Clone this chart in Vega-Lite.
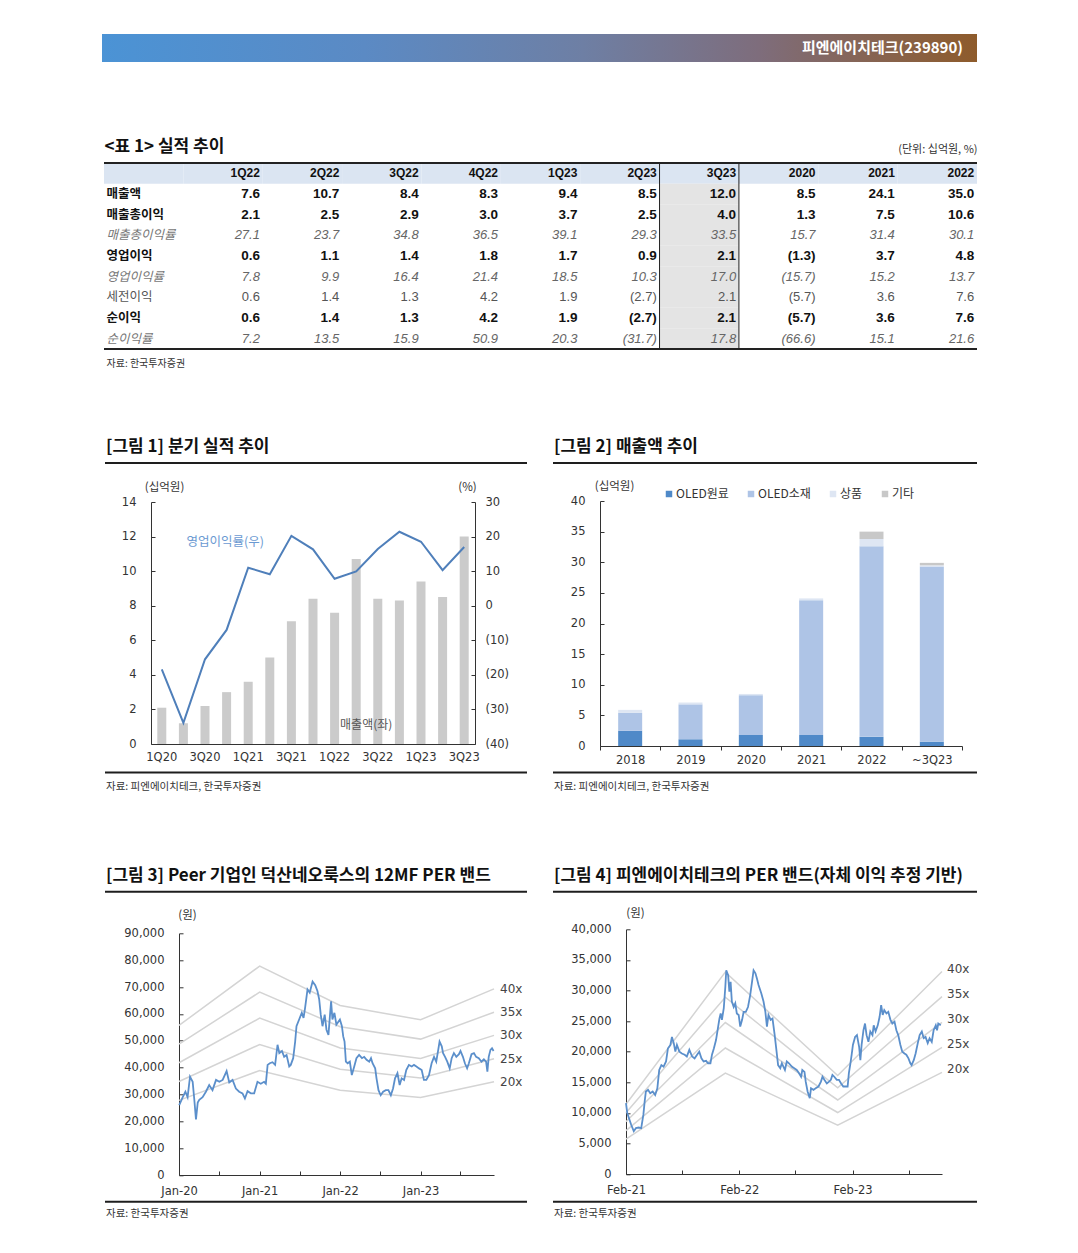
{
"$schema":"https://vega.github.io/schema/vega-lite/v6.json",
"background":"white",
"padding":{"left":102,"top":34,"right":10,"bottom":10},
"data":{"values":[{}]},
"config":{"view":{"stroke":null},"font":"DejaVu Sans",
"axis":{"grid":false,"labelFont":"DejaVu Sans","labelFontSize":11.5,"labelColor":"#333","domainColor":"#333","tickColor":"#333","titleFont":"Noto Sans CJK KR","titleFontWeight":"normal","titleFontSize":11.5,"titleColor":"#333"},
"title":{"font":"Noto Sans CJK KR"},"legend":{"labelFont":"Noto Sans CJK KR"}},
"datasets":{
"tbl":[
{"row":"head","label":"","1Q22":"1Q22","2Q22":"2Q22","3Q22":"3Q22","4Q22":"4Q22","1Q23":"1Q23","2Q23":"2Q23","3Q23":"3Q23","2020":"2020","2021":"2021","2022":"2022"},
{"row":"매출액","label":"매출액","1Q22":"7.6","2Q22":"10.7","3Q22":"8.4","4Q22":"8.3","1Q23":"9.4","2Q23":"8.5","3Q23":"12.0","2020":"8.5","2021":"24.1","2022":"35.0"},
{"row":"매출총이익","label":"매출총이익","1Q22":"2.1","2Q22":"2.5","3Q22":"2.9","4Q22":"3.0","1Q23":"3.7","2Q23":"2.5","3Q23":"4.0","2020":"1.3","2021":"7.5","2022":"10.6"},
{"row":"매출총이익률","label":"매출총이익률","1Q22":"27.1","2Q22":"23.7","3Q22":"34.8","4Q22":"36.5","1Q23":"39.1","2Q23":"29.3","3Q23":"33.5","2020":"15.7","2021":"31.4","2022":"30.1"},
{"row":"영업이익","label":"영업이익","1Q22":"0.6","2Q22":"1.1","3Q22":"1.4","4Q22":"1.8","1Q23":"1.7","2Q23":"0.9","3Q23":"2.1","2020":"(1.3)","2021":"3.7","2022":"4.8"},
{"row":"영업이익률","label":"영업이익률","1Q22":"7.8","2Q22":"9.9","3Q22":"16.4","4Q22":"21.4","1Q23":"18.5","2Q23":"10.3","3Q23":"17.0","2020":"(15.7)","2021":"15.2","2022":"13.7"},
{"row":"세전이익","label":"세전이익","1Q22":"0.6","2Q22":"1.4","3Q22":"1.3","4Q22":"4.2","1Q23":"1.9","2Q23":"(2.7)","3Q23":"2.1","2020":"(5.7)","2021":"3.6","2022":"7.6"},
{"row":"순이익","label":"순이익","1Q22":"0.6","2Q22":"1.4","3Q22":"1.3","4Q22":"4.2","1Q23":"1.9","2Q23":"(2.7)","3Q23":"2.1","2020":"(5.7)","2021":"3.6","2022":"7.6"},
{"row":"순이익률","label":"순이익률","1Q22":"7.2","2Q22":"13.5","3Q22":"15.9","4Q22":"50.9","1Q23":"20.3","2Q23":"(31.7)","3Q23":"17.8","2020":"(66.6)","2021":"15.1","2022":"21.6"}],
"c1":[{"q":"1Q20","rev":2.1,"opm":-18.4},{"q":"2Q20","rev":1.2,"opm":-33.9},{"q":"3Q20","rev":2.2,"opm":-15.5},{"q":"4Q20","rev":3.0,"opm":-7.0},{"q":"1Q21","rev":3.6,"opm":11.0},{"q":"2Q21","rev":5.0,"opm":9.1},{"q":"3Q21","rev":7.1,"opm":20.2},{"q":"4Q21","rev":8.4,"opm":16.3},{"q":"1Q22","rev":7.6,"opm":7.8},{"q":"2Q22","rev":10.7,"opm":9.9},{"q":"3Q22","rev":8.4,"opm":16.4},{"q":"4Q22","rev":8.3,"opm":21.4},{"q":"1Q23","rev":9.4,"opm":18.5},{"q":"2Q23","rev":8.5,"opm":10.3},{"q":"3Q23","rev":12.0,"opm":17.0}],
"c2":[{"yr":"2018","seg":"OLED원료","v":2.5},{"yr":"2018","seg":"OLED소재","v":2.9},{"yr":"2018","seg":"상품","v":0.5},
{"yr":"2019","seg":"OLED원료","v":1.1},{"yr":"2019","seg":"OLED소재","v":5.7},{"yr":"2019","seg":"상품","v":0.3},
{"yr":"2020","seg":"OLED원료","v":1.8},{"yr":"2020","seg":"OLED소재","v":6.5},{"yr":"2020","seg":"상품","v":0.2},
{"yr":"2021","seg":"OLED원료","v":1.8},{"yr":"2021","seg":"OLED소재","v":22.0},{"yr":"2021","seg":"상품","v":0.3},
{"yr":"2022","seg":"OLED원료","v":1.5},{"yr":"2022","seg":"OLED소재","v":31.1},{"yr":"2022","seg":"상품","v":1.2},{"yr":"2022","seg":"기타","v":1.2},
{"yr":"~3Q23","seg":"OLED원료","v":0.7},{"yr":"~3Q23","seg":"OLED소재","v":28.6},{"yr":"~3Q23","seg":"상품","v":0.2},{"yr":"~3Q23","seg":"기타","v":0.4}],
"b3":[
{"d":"2020-01-01","per":"40x","v":55700},{"d":"2021-01-01","per":"40x","v":77800},{"d":"2022-01-01","per":"40x","v":63100},{"d":"2023-01-01","per":"40x","v":57800},{"d":"2023-11-30","per":"40x","v":69300},
{"d":"2020-01-01","per":"35x","v":48700},{"d":"2021-01-01","per":"35x","v":68100},{"d":"2022-01-01","per":"35x","v":55200},{"d":"2023-01-01","per":"35x","v":50600},{"d":"2023-11-30","per":"35x","v":60600},
{"d":"2020-01-01","per":"30x","v":41800},{"d":"2021-01-01","per":"30x","v":58400},{"d":"2022-01-01","per":"30x","v":47300},{"d":"2023-01-01","per":"30x","v":43400},{"d":"2023-11-30","per":"30x","v":52000},
{"d":"2020-01-01","per":"25x","v":34800},{"d":"2021-01-01","per":"25x","v":48600},{"d":"2022-01-01","per":"25x","v":39400},{"d":"2023-01-01","per":"25x","v":36100},{"d":"2023-11-30","per":"25x","v":43300},
{"d":"2020-01-01","per":"20x","v":27800},{"d":"2021-01-01","per":"20x","v":38900},{"d":"2022-01-01","per":"20x","v":31600},{"d":"2023-01-01","per":"20x","v":28900},{"d":"2023-11-30","per":"20x","v":34700}],
"b4":[
{"d":"2021-02-01","per":"40x","v":11400},{"d":"2021-12-18","per":"40x","v":33000},{"d":"2022-12-15","per":"40x","v":16100},{"d":"2023-11-16","per":"40x","v":33100},
{"d":"2021-02-01","per":"35x","v":10000},{"d":"2021-12-18","per":"35x","v":28900},{"d":"2022-12-15","per":"35x","v":14100},{"d":"2023-11-16","per":"35x","v":29000},
{"d":"2021-02-01","per":"30x","v":8550},{"d":"2021-12-18","per":"30x","v":24750},{"d":"2022-12-15","per":"30x","v":12100},{"d":"2023-11-16","per":"30x","v":24800},
{"d":"2021-02-01","per":"25x","v":7100},{"d":"2021-12-18","per":"25x","v":20600},{"d":"2022-12-15","per":"25x","v":10050},{"d":"2023-11-16","per":"25x","v":20700},
{"d":"2021-02-01","per":"20x","v":5700},{"d":"2021-12-18","per":"20x","v":16500},{"d":"2022-12-15","per":"20x","v":8000},{"d":"2023-11-16","per":"20x","v":16600}],
"p3":[
{"d":"2020-01-02","v":26000},{"d":"2020-01-18","v":29000},{"d":"2020-01-30","v":31000},{"d":"2020-02-09","v":29000},{"d":"2020-02-20","v":36600},{"d":"2020-03-03","v":34700},{"d":"2020-03-10","v":28500},{"d":"2020-03-18","v":20700},{"d":"2020-03-26","v":27000},{"d":"2020-04-02","v":28000},{"d":"2020-04-17","v":29000},{"d":"2020-05-02","v":31000},{"d":"2020-05-17","v":33500},{"d":"2020-06-01","v":31600},{"d":"2020-06-17","v":35400},{"d":"2020-07-02","v":34700},{"d":"2020-07-17","v":35400},{"d":"2020-08-04","v":38700},{"d":"2020-08-16","v":34500},{"d":"2020-08-31","v":35400},{"d":"2020-09-15","v":32200},{"d":"2020-09-30","v":31000},{"d":"2020-10-15","v":30400},{"d":"2020-10-26","v":28500},{"d":"2020-11-07","v":31200},{"d":"2020-11-22","v":30400},{"d":"2020-12-07","v":30400},{"d":"2020-12-22","v":34700},{"d":"2021-01-06","v":34000},{"d":"2021-01-21","v":34700},{"d":"2021-01-29","v":34000},{"d":"2021-02-06","v":41000},{"d":"2021-02-16","v":41600},{"d":"2021-02-28","v":42000},{"d":"2021-03-12","v":41000},{"d":"2021-03-23","v":48500},{"d":"2021-03-31","v":45400},{"d":"2021-04-12","v":46200},{"d":"2021-04-22","v":44000},{"d":"2021-05-03","v":44700},{"d":"2021-05-15","v":40400},{"d":"2021-05-22","v":41000},{"d":"2021-06-02","v":43500},{"d":"2021-06-11","v":49700},{"d":"2021-06-17","v":55400},{"d":"2021-06-29","v":57900},{"d":"2021-07-11","v":60400},{"d":"2021-07-19","v":58500},{"d":"2021-07-26","v":62200},{"d":"2021-08-06","v":69100},{"d":"2021-08-16","v":67900},{"d":"2021-08-29","v":72000},{"d":"2021-09-10","v":70700},{"d":"2021-09-20","v":68500},{"d":"2021-09-28","v":65400},{"d":"2021-10-05","v":59700},{"d":"2021-10-13","v":55400},{"d":"2021-10-23","v":59700},{"d":"2021-10-31","v":54100},{"d":"2021-11-09","v":52200},{"d":"2021-11-15","v":58500},{"d":"2021-11-21","v":64700},{"d":"2021-11-27","v":57900},{"d":"2021-12-06","v":60400},{"d":"2021-12-15","v":56000},{"d":"2021-12-20","v":56600},{"d":"2021-12-31","v":57900},{"d":"2022-01-09","v":55400},{"d":"2022-01-15","v":51600},{"d":"2022-01-21","v":49700},{"d":"2022-01-27","v":42200},{"d":"2022-02-04","v":41600},{"d":"2022-02-14","v":42200},{"d":"2022-02-23","v":37200},{"d":"2022-03-06","v":40400},{"d":"2022-03-16","v":43500},{"d":"2022-03-28","v":44700},{"d":"2022-04-10","v":43500},{"d":"2022-04-20","v":44000},{"d":"2022-05-01","v":42900},{"d":"2022-05-13","v":42200},{"d":"2022-05-21","v":43500},{"d":"2022-05-28","v":41600},{"d":"2022-06-09","v":39700},{"d":"2022-06-15","v":36000},{"d":"2022-06-24","v":31600},{"d":"2022-07-04","v":29700},{"d":"2022-07-15","v":31000},{"d":"2022-07-27","v":31600},{"d":"2022-08-08","v":31600},{"d":"2022-08-19","v":29700},{"d":"2022-08-29","v":32200},{"d":"2022-09-07","v":36000},{"d":"2022-09-18","v":37900},{"d":"2022-09-28","v":33500},{"d":"2022-10-07","v":36000},{"d":"2022-10-18","v":35400},{"d":"2022-10-28","v":39100},{"d":"2022-11-09","v":41000},{"d":"2022-11-22","v":40400},{"d":"2022-12-02","v":41000},{"d":"2022-12-13","v":40400},{"d":"2022-12-25","v":39700},{"d":"2023-01-06","v":39100},{"d":"2023-01-16","v":35400},{"d":"2023-01-27","v":35400},{"d":"2023-02-08","v":37200},{"d":"2023-02-20","v":41600},{"d":"2023-03-03","v":44000},{"d":"2023-03-13","v":42200},{"d":"2023-03-22","v":46600},{"d":"2023-03-28","v":49700},{"d":"2023-04-07","v":47900},{"d":"2023-04-13","v":45400},{"d":"2023-04-22","v":44000},{"d":"2023-05-02","v":42200},{"d":"2023-05-13","v":39700},{"d":"2023-05-22","v":43500},{"d":"2023-06-01","v":45400},{"d":"2023-06-12","v":44000},{"d":"2023-06-24","v":45000},{"d":"2023-07-01","v":46200},{"d":"2023-07-12","v":44000},{"d":"2023-07-21","v":41600},{"d":"2023-07-31","v":39700},{"d":"2023-08-08","v":41600},{"d":"2023-08-20","v":45000},{"d":"2023-08-31","v":45400},{"d":"2023-09-10","v":44000},{"d":"2023-09-22","v":43500},{"d":"2023-10-04","v":42200},{"d":"2023-10-15","v":43100},{"d":"2023-10-25","v":42200},{"d":"2023-10-31","v":38500},{"d":"2023-11-06","v":44000},{"d":"2023-11-14","v":46600},{"d":"2023-11-21","v":47200},{"d":"2023-11-28","v":46200}],
"p4":[
{"d":"2021-02-01","v":11600},{"d":"2021-02-05","v":9950},{"d":"2021-02-12","v":8900},{"d":"2021-02-18","v":8000},{"d":"2021-02-26","v":7000},{"d":"2021-03-05","v":7500},{"d":"2021-03-14","v":7600},{"d":"2021-03-22","v":7500},{"d":"2021-03-29","v":9700},{"d":"2021-04-02","v":11800},{"d":"2021-04-06","v":13500},{"d":"2021-04-13","v":13750},{"d":"2021-04-20","v":13200},{"d":"2021-04-28","v":13500},{"d":"2021-05-06","v":12900},{"d":"2021-05-13","v":14000},{"d":"2021-05-19","v":17000},{"d":"2021-05-26","v":17800},{"d":"2021-06-02","v":17550},{"d":"2021-06-10","v":18400},{"d":"2021-06-16","v":20500},{"d":"2021-06-24","v":21100},{"d":"2021-06-29","v":22400},{"d":"2021-07-05","v":21350},{"d":"2021-07-10","v":20000},{"d":"2021-07-15","v":21100},{"d":"2021-07-23","v":20000},{"d":"2021-07-31","v":19700},{"d":"2021-08-09","v":19500},{"d":"2021-08-16","v":19200},{"d":"2021-08-24","v":20300},{"d":"2021-09-02","v":19200},{"d":"2021-09-10","v":18900},{"d":"2021-09-18","v":19500},{"d":"2021-09-25","v":20000},{"d":"2021-10-02","v":18900},{"d":"2021-10-09","v":18400},{"d":"2021-10-17","v":18500},{"d":"2021-10-23","v":18100},{"d":"2021-10-31","v":18100},{"d":"2021-11-05","v":19500},{"d":"2021-11-11","v":20500},{"d":"2021-11-18","v":21900},{"d":"2021-11-24","v":23800},{"d":"2021-11-29","v":25400},{"d":"2021-12-03","v":26250},{"d":"2021-12-07","v":25200},{"d":"2021-12-13","v":27100},{"d":"2021-12-18","v":30600},{"d":"2021-12-21","v":33300},{"d":"2021-12-27","v":32500},{"d":"2021-12-31","v":29800},{"d":"2022-01-04","v":31400},{"d":"2022-01-08","v":28200},{"d":"2022-01-14","v":27300},{"d":"2022-01-19","v":27900},{"d":"2022-01-24","v":26250},{"d":"2022-01-30","v":26000},{"d":"2022-02-04","v":24100},{"d":"2022-02-10","v":25200},{"d":"2022-02-15","v":26500},{"d":"2022-02-22","v":26500},{"d":"2022-03-01","v":27300},{"d":"2022-03-08","v":29200},{"d":"2022-03-14","v":31400},{"d":"2022-03-19","v":33300},{"d":"2022-03-25","v":32800},{"d":"2022-03-30","v":31900},{"d":"2022-04-04","v":30900},{"d":"2022-04-13","v":29500},{"d":"2022-04-20","v":28200},{"d":"2022-04-26","v":26500},{"d":"2022-05-01","v":24100},{"d":"2022-05-06","v":26000},{"d":"2022-05-13","v":25200},{"d":"2022-05-19","v":25400},{"d":"2022-05-26","v":22700},{"d":"2022-05-31","v":20500},{"d":"2022-06-06","v":17800},{"d":"2022-06-13","v":17300},{"d":"2022-06-18","v":18100},{"d":"2022-06-23","v":17550},{"d":"2022-06-28","v":17000},{"d":"2022-07-04","v":18400},{"d":"2022-07-11","v":18100},{"d":"2022-07-20","v":17550},{"d":"2022-07-28","v":17300},{"d":"2022-08-05","v":17000},{"d":"2022-08-12","v":16500},{"d":"2022-08-19","v":15900},{"d":"2022-08-23","v":17000},{"d":"2022-08-30","v":16700},{"d":"2022-09-03","v":15100},{"d":"2022-09-09","v":13500},{"d":"2022-09-16","v":12400},{"d":"2022-09-20","v":14000},{"d":"2022-09-28","v":13750},{"d":"2022-10-05","v":14000},{"d":"2022-10-14","v":14300},{"d":"2022-10-22","v":15100},{"d":"2022-10-27","v":15900},{"d":"2022-11-02","v":15400},{"d":"2022-11-10","v":14800},{"d":"2022-11-17","v":15100},{"d":"2022-11-23","v":15400},{"d":"2022-11-28","v":16200},{"d":"2022-12-04","v":15900},{"d":"2022-12-12","v":15400},{"d":"2022-12-19","v":15400},{"d":"2022-12-26","v":14800},{"d":"2023-01-02","v":14300},{"d":"2023-01-10","v":14300},{"d":"2023-01-16","v":14300},{"d":"2023-01-20","v":16500},{"d":"2023-01-25","v":18100},{"d":"2023-01-29","v":19500},{"d":"2023-02-02","v":21100},{"d":"2023-02-09","v":22400},{"d":"2023-02-15","v":22700},{"d":"2023-02-22","v":20800},{"d":"2023-02-26","v":18600},{"d":"2023-03-02","v":21100},{"d":"2023-03-08","v":23500},{"d":"2023-03-13","v":24600},{"d":"2023-03-18","v":22700},{"d":"2023-03-24","v":21600},{"d":"2023-03-30","v":23300},{"d":"2023-04-06","v":22700},{"d":"2023-04-10","v":24300},{"d":"2023-04-16","v":23300},{"d":"2023-04-23","v":24300},{"d":"2023-04-29","v":25700},{"d":"2023-05-04","v":27600},{"d":"2023-05-09","v":26000},{"d":"2023-05-14","v":26800},{"d":"2023-05-21","v":26250},{"d":"2023-05-27","v":26500},{"d":"2023-06-03","v":25200},{"d":"2023-06-09","v":24600},{"d":"2023-06-16","v":24900},{"d":"2023-06-22","v":23500},{"d":"2023-06-28","v":22700},{"d":"2023-07-05","v":21100},{"d":"2023-07-11","v":20000},{"d":"2023-07-18","v":19700},{"d":"2023-07-24","v":19500},{"d":"2023-07-31","v":18900},{"d":"2023-08-06","v":18100},{"d":"2023-08-10","v":17800},{"d":"2023-08-17","v":18600},{"d":"2023-08-23","v":19700},{"d":"2023-08-30","v":21400},{"d":"2023-09-05","v":22700},{"d":"2023-09-12","v":23300},{"d":"2023-09-18","v":22200},{"d":"2023-09-24","v":22400},{"d":"2023-10-01","v":21400},{"d":"2023-10-07","v":22200},{"d":"2023-10-14","v":21600},{"d":"2023-10-20","v":23500},{"d":"2023-10-27","v":24300},{"d":"2023-10-31","v":23500},{"d":"2023-11-04","v":24600},{"d":"2023-11-12","v":24300}]
},
"bounds":"flush",
"spacing":0,
"vconcat":[
{"hconcat":[{"vconcat":[{"width":1,"height":1,"mark":{"type":"rect","opacity":0}}]},{"vconcat":[{"vconcat":[{"width":1,"height":1,"mark":{"type":"rect","opacity":0}}]},
 {"width":875,"height":28,"data":{"values":[{"t":"피엔에이치테크(239890)"}]},
  "layer":[
   {"mark":{"type":"rect","color":{"gradient":"linear","x1":0,"y1":0,"x2":1,"y2":0,"stops":[{"offset":0,"color":"#4b93d5"},{"offset":0.3,"color":"#5b8ac4"},{"offset":0.55,"color":"#6e7fa4"},{"offset":0.75,"color":"#7e6d7c"},{"offset":1,"color":"#8e5b2b"}]}},
    "encoding":{"x":{"field":"t","type":"nominal","scale":{"paddingInner":0,"paddingOuter":0},"axis":null}}},
   {"mark":{"type":"text","align":"right","baseline":"middle","dx":-14,"color":"#ffffff","font":"Noto Sans CJK KR","fontSize":15,"fontWeight":"bold"},
    "encoding":{"x":{"field":"t","type":"nominal","bandPosition":1,"scale":{"paddingInner":0,"paddingOuter":0},"axis":null},"text":{"field":"t"}}}
  ]}
 ],"spacing":0,"bounds":"flush"}],"spacing":0,"bounds":"flush"},

{"hconcat":[{"vconcat":[{"width":1,"height":1,"mark":{"type":"rect","opacity":0}}]},{"vconcat":[{"vconcat":[{"width":1,"height":1,"mark":{"type":"rect","opacity":0}}]},
 {"width":873,"height":186,
 "data":{"name":"tbl"},
 "transform":[{"fold":["label","1Q22","2Q22","3Q22","4Q22","1Q23","2Q23","3Q23","2020","2021","2022"],"as":["col","v"]}],
 "resolve":{"axis":{"x":"independent"}},
 "layer":[
  {"transform":[{"filter":"datum.row === 'head'"}],"mark":{"type":"rect","color":"#dbe5f2"},
   "encoding":{"x":{"field":"col","type":"nominal","scale":{"domain":["label","1Q22","2Q22","3Q22","4Q22","1Q23","2Q23","3Q23","2020","2021","2022"],"paddingInner":0,"paddingOuter":0},"axis":null},
    "y":{"field":"row","type":"nominal","scale":{"domain":["head","매출액","매출총이익","매출총이익률","영업이익","영업이익률","세전이익","순이익","순이익률"],"paddingInner":0,"paddingOuter":0},"axis":null}}},
  {"transform":[{"filter":"datum.col === '3Q23' && datum.row !== 'head'"}],"mark":{"type":"rect","color":"#e4e4e4"},
   "encoding":{"x":{"field":"col","type":"nominal","scale":{"domain":["label","1Q22","2Q22","3Q22","4Q22","1Q23","2Q23","3Q23","2020","2021","2022"],"paddingInner":0,"paddingOuter":0},"axis":null},
    "y":{"field":"row","type":"nominal","scale":{"domain":["head","매출액","매출총이익","매출총이익률","영업이익","영업이익률","세전이익","순이익","순이익률"],"paddingInner":0,"paddingOuter":0},"axis":null}}},
  {"transform":[{"filter":"datum.row === 'head' && datum.col === 'label'"}],"mark":{"type":"rule","strokeWidth":2,"color":"#222"},
   "encoding":{"y":{"field":"row","type":"nominal","bandPosition":0,"scale":{"domain":["head","매출액","매출총이익","매출총이익률","영업이익","영업이익률","세전이익","순이익","순이익률"],"paddingInner":0,"paddingOuter":0},"axis":null}}},
  {"transform":[{"filter":"datum.row === '순이익률' && datum.col === 'label'"}],"mark":{"type":"rule","strokeWidth":2,"color":"#222"},
   "encoding":{"y":{"field":"row","type":"nominal","bandPosition":1,"scale":{"domain":["head","매출액","매출총이익","매출총이익률","영업이익","영업이익률","세전이익","순이익","순이익률"],"paddingInner":0,"paddingOuter":0},"axis":null}}},
  {"transform":[{"filter":"datum.row === 'head' && datum.col === '3Q23'"}],"mark":{"type":"rule","strokeWidth":1,"color":"#222"},
   "encoding":{"x":{"field":"col","type":"nominal","bandPosition":0,"scale":{"domain":["label","1Q22","2Q22","3Q22","4Q22","1Q23","2Q23","3Q23","2020","2021","2022"],"paddingInner":0,"paddingOuter":0},"axis":null}}},
  {"transform":[{"filter":"datum.row === 'head' && datum.col === '3Q23'"}],"mark":{"type":"rule","strokeWidth":1,"color":"#222"},
   "encoding":{"x":{"field":"col","type":"nominal","bandPosition":1,"scale":{"domain":["label","1Q22","2Q22","3Q22","4Q22","1Q23","2Q23","3Q23","2020","2021","2022"],"paddingInner":0,"paddingOuter":0},"axis":null}}},
  {"transform":[{"filter":"datum.row === 'head' && datum.col !== 'label'"}],
   "mark":{"type":"text","align":"right","baseline":"middle","font":"Liberation Sans","fontSize":12,"fontWeight":"bold","color":"#111"},
   "encoding":{"x":{"field":"col","type":"nominal","bandPosition":0.965,"scale":{"domain":["label","1Q22","2Q22","3Q22","4Q22","1Q23","2Q23","3Q23","2020","2021","2022"],"paddingInner":0,"paddingOuter":0},
     "axis":{"orient":"top","title":"(단위: 십억원, %)","labels":false,"ticks":false,"domain":false,"titleX":873,"titleY":-11,"titleAlign":"right","titleBaseline":"alphabetic","titleFontSize":11,"titleColor":"#333"}},
    "y":{"field":"row","type":"nominal","scale":{"domain":["head","매출액","매출총이익","매출총이익률","영업이익","영업이익률","세전이익","순이익","순이익률"],"paddingInner":0,"paddingOuter":0},"axis":null},
    "text":{"field":"v"}}},
  {"transform":[{"filter":"datum.col === 'label' && indexof(['매출액','매출총이익','영업이익','순이익'], datum.row) >= 0"}],
   "mark":{"type":"text","align":"left","baseline":"middle","font":"Noto Sans CJK KR","fontSize":12.5,"fontWeight":"bold","color":"#111"},
   "encoding":{"x":{"field":"col","type":"nominal","bandPosition":0.03,"scale":{"domain":["label","1Q22","2Q22","3Q22","4Q22","1Q23","2Q23","3Q23","2020","2021","2022"],"paddingInner":0,"paddingOuter":0},
     "axis":{"orient":"bottom","title":"자료: 한국투자증권","labels":false,"ticks":false,"domain":false,"titleX":2,"titleY":14,"titleAlign":"left","titleBaseline":"middle","titleFontSize":10,"titleColor":"#333"}},
    "y":{"field":"row","type":"nominal","scale":{"domain":["head","매출액","매출총이익","매출총이익률","영업이익","영업이익률","세전이익","순이익","순이익률"],"paddingInner":0,"paddingOuter":0},"axis":null},
    "text":{"field":"v"}}},
  {"transform":[{"filter":"datum.col === 'label' && indexof(['매출총이익률','영업이익률','순이익률'], datum.row) >= 0"}],
   "mark":{"type":"text","align":"left","baseline":"middle","font":"Noto Sans CJK KR","fontSize":12.5,"fontStyle":"italic","color":"#777"},
   "encoding":{"x":{"field":"col","type":"nominal","bandPosition":0.03,"scale":{"domain":["label","1Q22","2Q22","3Q22","4Q22","1Q23","2Q23","3Q23","2020","2021","2022"],"paddingInner":0,"paddingOuter":0},"axis":null},
    "y":{"field":"row","type":"nominal","scale":{"domain":["head","매출액","매출총이익","매출총이익률","영업이익","영업이익률","세전이익","순이익","순이익률"],"paddingInner":0,"paddingOuter":0},"axis":null},
    "text":{"field":"v"}}},
  {"transform":[{"filter":"datum.col === 'label' && datum.row === '세전이익'"}],
   "mark":{"type":"text","align":"left","baseline":"middle","font":"Noto Sans CJK KR","fontSize":12.5,"color":"#555"},
   "encoding":{"x":{"field":"col","type":"nominal","bandPosition":0.03,"scale":{"domain":["label","1Q22","2Q22","3Q22","4Q22","1Q23","2Q23","3Q23","2020","2021","2022"],"paddingInner":0,"paddingOuter":0},"axis":null},
    "y":{"field":"row","type":"nominal","scale":{"domain":["head","매출액","매출총이익","매출총이익률","영업이익","영업이익률","세전이익","순이익","순이익률"],"paddingInner":0,"paddingOuter":0},"axis":null},
    "text":{"field":"v"}}},
  {"transform":[{"filter":"datum.col !== 'label' && indexof(['매출액','매출총이익','영업이익','순이익'], datum.row) >= 0"}],
   "mark":{"type":"text","align":"right","baseline":"middle","font":"Liberation Sans","fontSize":13.5,"fontWeight":"bold","color":"#111"},
   "encoding":{"x":{"field":"col","type":"nominal","bandPosition":0.965,"scale":{"domain":["label","1Q22","2Q22","3Q22","4Q22","1Q23","2Q23","3Q23","2020","2021","2022"],"paddingInner":0,"paddingOuter":0},
     "axis":{"orient":"top","title":"<표 1> 실적 추이","labels":false,"ticks":false,"domain":false,"titleX":0,"titleY":-12,"titleAlign":"left","titleBaseline":"alphabetic","titleFontSize":17,"titleFontWeight":"bold","titleColor":"#111"}},
    "y":{"field":"row","type":"nominal","scale":{"domain":["head","매출액","매출총이익","매출총이익률","영업이익","영업이익률","세전이익","순이익","순이익률"],"paddingInner":0,"paddingOuter":0},"axis":null},
    "text":{"field":"v"}}},
  {"transform":[{"filter":"datum.col !== 'label' && indexof(['매출총이익률','영업이익률','순이익률'], datum.row) >= 0"}],
   "mark":{"type":"text","align":"right","baseline":"middle","font":"Liberation Sans","fontSize":13,"fontStyle":"italic","color":"#666"},
   "encoding":{"x":{"field":"col","type":"nominal","bandPosition":0.965,"scale":{"domain":["label","1Q22","2Q22","3Q22","4Q22","1Q23","2Q23","3Q23","2020","2021","2022"],"paddingInner":0,"paddingOuter":0},"axis":null},
    "y":{"field":"row","type":"nominal","scale":{"domain":["head","매출액","매출총이익","매출총이익률","영업이익","영업이익률","세전이익","순이익","순이익률"],"paddingInner":0,"paddingOuter":0},"axis":null},
    "text":{"field":"v"}}},
  {"transform":[{"filter":"datum.col !== 'label' && datum.row === '세전이익'"}],
   "mark":{"type":"text","align":"right","baseline":"middle","font":"Liberation Sans","fontSize":13,"color":"#555"},
   "encoding":{"x":{"field":"col","type":"nominal","bandPosition":0.965,"scale":{"domain":["label","1Q22","2Q22","3Q22","4Q22","1Q23","2Q23","3Q23","2020","2021","2022"],"paddingInner":0,"paddingOuter":0},"axis":null},
    "y":{"field":"row","type":"nominal","scale":{"domain":["head","매출액","매출총이익","매출총이익률","영업이익","영업이익률","세전이익","순이익","순이익률"],"paddingInner":0,"paddingOuter":0},"axis":null},
    "text":{"field":"v"}}}
 ]}
 ],"spacing":129,"bounds":"flush"}],"spacing":2,"bounds":"flush"},

{"hconcat":[{"vconcat":[{"width":1,"height":1,"mark":{"type":"rect","opacity":0}}]},{"vconcat":[{"vconcat":[{"width":1,"height":1,"mark":{"type":"rect","opacity":0}}]},
 {"width":422,"height":2,"mark":{"type":"rect","color":"#1e1e1e"},
  "title":{"text":"[그림 1] 분기 실적 추이","anchor":"start","frame":"group","orient":"top","offset":-7,"baseline":"alphabetic","fontSize":17,"fontWeight":"bold","color":"#111","dx":1}}
 ],"spacing":428,"bounds":"flush"}],"spacing":3,"bounds":"flush"},

{"hconcat":[{"vconcat":[{"width":1,"height":1,"mark":{"type":"rect","opacity":0}}]},{"vconcat":[{"vconcat":[{"width":1,"height":1,"mark":{"type":"rect","opacity":0}}]},
 {"width":424,"height":2,"mark":{"type":"rect","color":"#1e1e1e"},
  "title":{"text":"[그림 2] 매출액 추이","anchor":"start","frame":"group","orient":"top","offset":-7,"baseline":"alphabetic","fontSize":17,"fontWeight":"bold","color":"#111","dx":1}}
 ],"spacing":428,"bounds":"flush"}],"spacing":451,"bounds":"flush"},

{"hconcat":[{"vconcat":[{"width":1,"height":1,"mark":{"type":"rect","opacity":0}}]},{"vconcat":[{"vconcat":[{"width":1,"height":1,"mark":{"type":"rect","opacity":0}}]},
 {"width":324,"height":242,
   "resolve":{"scale":{"y":"independent"}},
   "layer":[
    {"layer":[
     {"data":{"name":"c1"},"mark":{"type":"bar","size":9,"color":"#cbcbcb"},
      "encoding":{
       "x":{"field":"q","type":"ordinal","scale":{"type":"band","domain":["1Q20","2Q20","3Q20","4Q20","1Q21","2Q21","3Q21","4Q21","1Q22","2Q22","3Q22","4Q22","1Q23","2Q23","3Q23"],"paddingInner":0,"paddingOuter":0},
        "axis":{"title":null,"values":["1Q20","3Q20","1Q21","3Q21","1Q22","3Q22","1Q23","3Q23"],"labelAngle":0,"ticks":false,"labelPadding":7}},
       "y":{"field":"rev","type":"quantitative","scale":{"domain":[0,14],"nice":false},
        "axis":{"values":[0,2,4,6,8,10,12,14],"title":"(십억원)","titleAngle":0,"titleAlign":"center","titleBaseline":"middle","titleX":13,"titleY":-15,"tickSize":-4,"labelPadding":19}}}},
     {"data":{"values":[{}]},"mark":{"type":"text","text":"매출액(좌)","font":"Noto Sans CJK KR","fontSize":12,"color":"#555","dx":10},
      "encoding":{"x":{"datum":"2Q22","type":"ordinal","scale":{"type":"band","domain":["1Q20","2Q20","3Q20","4Q20","1Q21","2Q21","3Q21","4Q21","1Q22","2Q22","3Q22","4Q22","1Q23","2Q23","3Q23"],"paddingInner":0,"paddingOuter":0},
        "axis":{"title":null,"values":["1Q20","3Q20","1Q21","3Q21","1Q22","3Q22","1Q23","3Q23"],"labelAngle":0,"ticks":false,"labelPadding":7}},
       "y":{"datum":1.1,"type":"quantitative","scale":{"domain":[0,14],"nice":false},
        "axis":{"values":[0,2,4,6,8,10,12,14],"title":"(십억원)","titleAngle":0,"titleAlign":"center","titleBaseline":"middle","titleX":13,"titleY":-15,"tickSize":-4,"labelPadding":19}}}}
    ]},
    {"layer":[
     {"data":{"name":"c1"},"mark":{"type":"line","color":"#4f7fba","strokeWidth":2},
      "encoding":{
       "x":{"field":"q","type":"ordinal","scale":{"type":"band","domain":["1Q20","2Q20","3Q20","4Q20","1Q21","2Q21","3Q21","4Q21","1Q22","2Q22","3Q22","4Q22","1Q23","2Q23","3Q23"],"paddingInner":0,"paddingOuter":0},
        "axis":{"title":null,"values":["1Q20","3Q20","1Q21","3Q21","1Q22","3Q22","1Q23","3Q23"],"labelAngle":0,"ticks":false,"labelPadding":7}},
       "y":{"field":"opm","type":"quantitative","scale":{"domain":[-40,30],"nice":false},
        "axis":{"orient":"right","values":[-40,-30,-20,-10,0,10,20,30],"labelExpr":"datum.value < 0 ? '(' + (-datum.value) + ')' : '' + datum.value","title":"(%)","titleAngle":0,"titleAlign":"center","titleBaseline":"middle","titleX":-8,"titleY":-15,"tickSize":-4,"labelPadding":14}}}},
     {"data":{"values":[{}]},"mark":{"type":"text","text":"영업이익률(우)","font":"Noto Sans CJK KR","fontSize":12.5,"color":"#6b9ad2","align":"left","dx":3},
      "encoding":{"x":{"datum":"2Q20","type":"ordinal","scale":{"type":"band","domain":["1Q20","2Q20","3Q20","4Q20","1Q21","2Q21","3Q21","4Q21","1Q22","2Q22","3Q22","4Q22","1Q23","2Q23","3Q23"],"paddingInner":0,"paddingOuter":0},
        "axis":{"title":null,"values":["1Q20","3Q20","1Q21","3Q21","1Q22","3Q22","1Q23","3Q23"],"labelAngle":0,"ticks":false,"labelPadding":7}},
       "y":{"datum":18.4,"type":"quantitative","scale":{"domain":[-40,30],"nice":false},
        "axis":{"orient":"right","values":[-40,-30,-20,-10,0,10,20,30],"labelExpr":"datum.value < 0 ? '(' + (-datum.value) + ')' : '' + datum.value","title":"(%)","titleAngle":0,"titleAlign":"center","titleBaseline":"middle","titleX":-8,"titleY":-15,"tickSize":-4,"labelPadding":14}}}}
    ]}
   ]}
 ],"spacing":468,"bounds":"flush"}],"spacing":49,"bounds":"flush"},

{"hconcat":[{"vconcat":[{"width":1,"height":1,"mark":{"type":"rect","opacity":0}}]},{"vconcat":[{"vconcat":[{"width":1,"height":1,"mark":{"type":"rect","opacity":0}}]},
 {"width":362,"height":245,
   "data":{"name":"c2"},
   "transform":[{"calculate":"indexof(['OLED원료','OLED소재','상품','기타'], datum.seg)","as":"o"}],
   "mark":{"type":"bar","size":24},
   "encoding":{
    "x":{"field":"yr","type":"ordinal","scale":{"domain":["2018","2019","2020","2021","2022","~3Q23"],"paddingInner":0,"paddingOuter":0},
     "axis":{"title":null,"labelAngle":0,"tickBand":"extent","tickSize":4,"labelPadding":4}},
    "y":{"field":"v","type":"quantitative","stack":"zero","scale":{"domain":[0,40],"nice":false},
     "axis":{"values":[0,5,10,15,20,25,30,35,40],"title":"(십억원)","titleAngle":0,"titleAlign":"center","titleBaseline":"middle","titleX":14,"titleY":-15,"tickSize":-4,"labelPadding":19}},
    "color":{"field":"seg","type":"nominal","scale":{"domain":["OLED원료","OLED소재","상품","기타"],"range":["#4f89c8","#aec4e6","#dee6f3","#c8c8c8"]},
     "legend":{"orient":"none","legendX":561,"legendY":454,"direction":"horizontal","title":null,"symbolType":"square","symbolSize":42,"symbolStrokeWidth":0,"labelFontSize":12,"labelColor":"#333","columnPadding":16,"labelOffset":1}},
    "order":{"field":"o","type":"quantitative"}}}
 ],"spacing":467,"bounds":"flush"}],"spacing":498,"bounds":"flush"},

{"hconcat":[{"vconcat":[{"width":1,"height":1,"mark":{"type":"rect","opacity":0}}]},{"vconcat":[{"vconcat":[{"width":1,"height":1,"mark":{"type":"rect","opacity":0}}]},
 {"width":422,"height":2,"mark":{"type":"rect","color":"#1e1e1e"},
  "title":{"text":"자료: 피엔에이치테크, 한국투자증권","anchor":"start","frame":"group","orient":"bottom","offset":13,"baseline":"middle","fontSize":10.5,"fontWeight":"normal","color":"#333","dx":1}}
 ],"spacing":737.5,"bounds":"flush"}],"spacing":3,"bounds":"flush"},

{"hconcat":[{"vconcat":[{"width":1,"height":1,"mark":{"type":"rect","opacity":0}}]},{"vconcat":[{"vconcat":[{"width":1,"height":1,"mark":{"type":"rect","opacity":0}}]},
 {"width":424,"height":2,"mark":{"type":"rect","color":"#1e1e1e"},
  "title":{"text":"자료: 피엔에이치테크, 한국투자증권","anchor":"start","frame":"group","orient":"bottom","offset":13,"baseline":"middle","fontSize":10.5,"fontWeight":"normal","color":"#333","dx":1}}
 ],"spacing":737.5,"bounds":"flush"}],"spacing":451,"bounds":"flush"},

{"hconcat":[{"vconcat":[{"width":1,"height":1,"mark":{"type":"rect","opacity":0}}]},{"vconcat":[{"vconcat":[{"width":1,"height":1,"mark":{"type":"rect","opacity":0}}]},
 {"width":422,"height":2,"mark":{"type":"rect","color":"#1e1e1e"},
  "title":{"text":"[그림 3] Peer 기업인 덕산네오룩스의 12MF PER 밴드","anchor":"start","frame":"group","orient":"top","offset":-7,"baseline":"alphabetic","fontSize":17,"fontWeight":"bold","color":"#111","dx":1}}
 ],"spacing":856.7,"bounds":"flush"}],"spacing":3,"bounds":"flush"},

{"hconcat":[{"vconcat":[{"width":1,"height":1,"mark":{"type":"rect","opacity":0}}]},{"vconcat":[{"vconcat":[{"width":1,"height":1,"mark":{"type":"rect","opacity":0}}]},
 {"width":424,"height":2,"mark":{"type":"rect","color":"#1e1e1e"},
  "title":{"text":"[그림 4] 피엔에이치테크의 PER 밴드(자체 이익 추정 기반)","anchor":"start","frame":"group","orient":"top","offset":-7,"baseline":"alphabetic","fontSize":17,"fontWeight":"bold","color":"#111","dx":1}}
 ],"spacing":856.7,"bounds":"flush"}],"spacing":451,"bounds":"flush"},

{"hconcat":[{"vconcat":[{"width":1,"height":1,"mark":{"type":"rect","opacity":0}}]},{"vconcat":[{"vconcat":[{"width":1,"height":1,"mark":{"type":"rect","opacity":0}}]},
 {"width":315,"height":241.7,
   "layer":[
    {"data":{"name":"b3"},"mark":{"type":"line","color":"#d4d4d4","strokeWidth":1.5},
     "encoding":{
      "x":{"field":"d","type":"temporal","scale":{"domain":[{"year":2020,"month":1,"date":1,"utc":true},{"year":2023,"month":11,"date":30,"utc":true}]},
       "axis":{"title":null,"values":[{"year":2020,"month":1,"date":1,"utc":true},{"year":2020,"month":7,"date":1,"utc":true},{"year":2021,"month":1,"date":1,"utc":true},{"year":2021,"month":7,"date":1,"utc":true},{"year":2022,"month":1,"date":1,"utc":true},{"year":2022,"month":7,"date":1,"utc":true},{"year":2023,"month":1,"date":1,"utc":true},{"year":2023,"month":7,"date":1,"utc":true}],
        "labelExpr":"utcmonth(datum.value) === 0 ? utcFormat(datum.value, '%b-%y') : ''","labelFlush":false,"labelOverlap":false,"labelAngle":0,"tickSize":-4,"labelPadding":14}},
      "y":{"field":"v","type":"quantitative","scale":{"domain":[0,90000],"nice":false},
       "axis":{"values":[0,10000,20000,30000,40000,50000,60000,70000,80000,90000],"format":",d","title":"(원)","titleAngle":0,"titleAlign":"center","titleBaseline":"middle","titleX":8,"titleY":-18,"tickSize":-4,"labelPadding":19}},
      "detail":{"field":"per"}}},
    {"data":{"name":"b3"},"mark":{"type":"text","align":"left","baseline":"middle","dx":6,"fontSize":12,"color":"#444","font":"DejaVu Sans"},
     "encoding":{
      "x":{"aggregate":"max","field":"d","type":"temporal",
       "axis":{"title":null,"values":[{"year":2020,"month":1,"date":1,"utc":true},{"year":2020,"month":7,"date":1,"utc":true},{"year":2021,"month":1,"date":1,"utc":true},{"year":2021,"month":7,"date":1,"utc":true},{"year":2022,"month":1,"date":1,"utc":true},{"year":2022,"month":7,"date":1,"utc":true},{"year":2023,"month":1,"date":1,"utc":true},{"year":2023,"month":7,"date":1,"utc":true}],
        "labelExpr":"utcmonth(datum.value) === 0 ? utcFormat(datum.value, '%b-%y') : ''","labelFlush":false,"labelOverlap":false,"labelAngle":0,"tickSize":-4,"labelPadding":14}},
      "y":{"aggregate":{"argmax":"d"},"field":"v","type":"quantitative",
       "axis":{"values":[0,10000,20000,30000,40000,50000,60000,70000,80000,90000],"format":",d","title":"(원)","titleAngle":0,"titleAlign":"center","titleBaseline":"middle","titleX":8,"titleY":-18,"tickSize":-4,"labelPadding":19}},
      "text":{"field":"per"}}},
    {"data":{"name":"p3"},"mark":{"type":"line","color":"#5b8fcb","strokeWidth":1.8},
     "encoding":{
      "x":{"field":"d","type":"temporal",
       "axis":{"title":null,"values":[{"year":2020,"month":1,"date":1,"utc":true},{"year":2020,"month":7,"date":1,"utc":true},{"year":2021,"month":1,"date":1,"utc":true},{"year":2021,"month":7,"date":1,"utc":true},{"year":2022,"month":1,"date":1,"utc":true},{"year":2022,"month":7,"date":1,"utc":true},{"year":2023,"month":1,"date":1,"utc":true},{"year":2023,"month":7,"date":1,"utc":true}],
        "labelExpr":"utcmonth(datum.value) === 0 ? utcFormat(datum.value, '%b-%y') : ''","labelFlush":false,"labelOverlap":false,"labelAngle":0,"tickSize":-4,"labelPadding":14}},
      "y":{"field":"v","type":"quantitative",
       "axis":{"values":[0,10000,20000,30000,40000,50000,60000,70000,80000,90000],"format":",d","title":"(원)","titleAngle":0,"titleAlign":"center","titleBaseline":"middle","titleX":8,"titleY":-18,"tickSize":-4,"labelPadding":19}}}}
   ]}
 ],"spacing":899.3,"bounds":"flush"}],"spacing":77,"bounds":"flush"},

{"hconcat":[{"vconcat":[{"width":1,"height":1,"mark":{"type":"rect","opacity":0}}]},{"vconcat":[{"vconcat":[{"width":1,"height":1,"mark":{"type":"rect","opacity":0}}]},
 {"width":316,"height":244.7,
   "layer":[
    {"data":{"name":"b4"},"mark":{"type":"line","color":"#d4d4d4","strokeWidth":1.5},
     "encoding":{
      "x":{"field":"d","type":"temporal","scale":{"domain":[{"year":2021,"month":2,"date":1,"utc":true},{"year":2023,"month":11,"date":16,"utc":true}]},
       "axis":{"title":null,"values":[{"year":2021,"month":2,"date":1,"utc":true},{"year":2021,"month":8,"date":1,"utc":true},{"year":2022,"month":2,"date":1,"utc":true},{"year":2022,"month":8,"date":1,"utc":true},{"year":2023,"month":2,"date":1,"utc":true},{"year":2023,"month":8,"date":1,"utc":true}],
        "labelExpr":"utcmonth(datum.value) === 1 ? utcFormat(datum.value, '%b-%y') : ''","labelFlush":false,"labelOverlap":false,"labelAngle":0,"tickSize":-4,"labelPadding":14}},
      "y":{"field":"v","type":"quantitative","scale":{"domain":[0,40000],"nice":false},
       "axis":{"values":[0,5000,10000,15000,20000,25000,30000,35000,40000],"format":",d","title":"(원)","titleAngle":0,"titleAlign":"center","titleBaseline":"middle","titleX":9,"titleY":-16,"tickSize":-4,"labelPadding":19}},
      "detail":{"field":"per"}}},
    {"data":{"name":"b4"},"mark":{"type":"text","align":"left","baseline":"middle","dx":5,"dy":-3,"fontSize":12,"color":"#444","font":"DejaVu Sans"},
     "encoding":{
      "x":{"aggregate":"max","field":"d","type":"temporal",
       "axis":{"title":null,"values":[{"year":2021,"month":2,"date":1,"utc":true},{"year":2021,"month":8,"date":1,"utc":true},{"year":2022,"month":2,"date":1,"utc":true},{"year":2022,"month":8,"date":1,"utc":true},{"year":2023,"month":2,"date":1,"utc":true},{"year":2023,"month":8,"date":1,"utc":true}],
        "labelExpr":"utcmonth(datum.value) === 1 ? utcFormat(datum.value, '%b-%y') : ''","labelFlush":false,"labelOverlap":false,"labelAngle":0,"tickSize":-4,"labelPadding":14}},
      "y":{"aggregate":{"argmax":"d"},"field":"v","type":"quantitative",
       "axis":{"values":[0,5000,10000,15000,20000,25000,30000,35000,40000],"format":",d","title":"(원)","titleAngle":0,"titleAlign":"center","titleBaseline":"middle","titleX":9,"titleY":-16,"tickSize":-4,"labelPadding":19}},
      "text":{"field":"per"}}},
    {"data":{"name":"p4"},"mark":{"type":"line","color":"#5b8fcb","strokeWidth":1.8},
     "encoding":{
      "x":{"field":"d","type":"temporal",
       "axis":{"title":null,"values":[{"year":2021,"month":2,"date":1,"utc":true},{"year":2021,"month":8,"date":1,"utc":true},{"year":2022,"month":2,"date":1,"utc":true},{"year":2022,"month":8,"date":1,"utc":true},{"year":2023,"month":2,"date":1,"utc":true},{"year":2023,"month":8,"date":1,"utc":true}],
        "labelExpr":"utcmonth(datum.value) === 1 ? utcFormat(datum.value, '%b-%y') : ''","labelFlush":false,"labelOverlap":false,"labelAngle":0,"tickSize":-4,"labelPadding":14}},
      "y":{"field":"v","type":"quantitative",
       "axis":{"values":[0,5000,10000,15000,20000,25000,30000,35000,40000],"format":",d","title":"(원)","titleAngle":0,"titleAlign":"center","titleBaseline":"middle","titleX":9,"titleY":-16,"tickSize":-4,"labelPadding":19}}}}
   ]}
 ],"spacing":895.3,"bounds":"flush"}],"spacing":524,"bounds":"flush"},

{"hconcat":[{"vconcat":[{"width":1,"height":1,"mark":{"type":"rect","opacity":0}}]},{"vconcat":[{"vconcat":[{"width":1,"height":1,"mark":{"type":"rect","opacity":0}}]},
 {"width":422,"height":2,"mark":{"type":"rect","color":"#1e1e1e"},
  "title":{"text":"자료: 한국투자증권","anchor":"start","frame":"group","orient":"bottom","offset":11.3,"baseline":"middle","fontSize":10.5,"fontWeight":"normal","color":"#333","dx":1}}
 ],"spacing":1166.7,"bounds":"flush"}],"spacing":3,"bounds":"flush"},

{"hconcat":[{"vconcat":[{"width":1,"height":1,"mark":{"type":"rect","opacity":0}}]},{"vconcat":[{"vconcat":[{"width":1,"height":1,"mark":{"type":"rect","opacity":0}}]},
 {"width":424,"height":2,"mark":{"type":"rect","color":"#1e1e1e"},
  "title":{"text":"자료: 한국투자증권","anchor":"start","frame":"group","orient":"bottom","offset":11.3,"baseline":"middle","fontSize":10.5,"fontWeight":"normal","color":"#333","dx":1}}
 ],"spacing":1166.7,"bounds":"flush"}],"spacing":451,"bounds":"flush"}
]
}
